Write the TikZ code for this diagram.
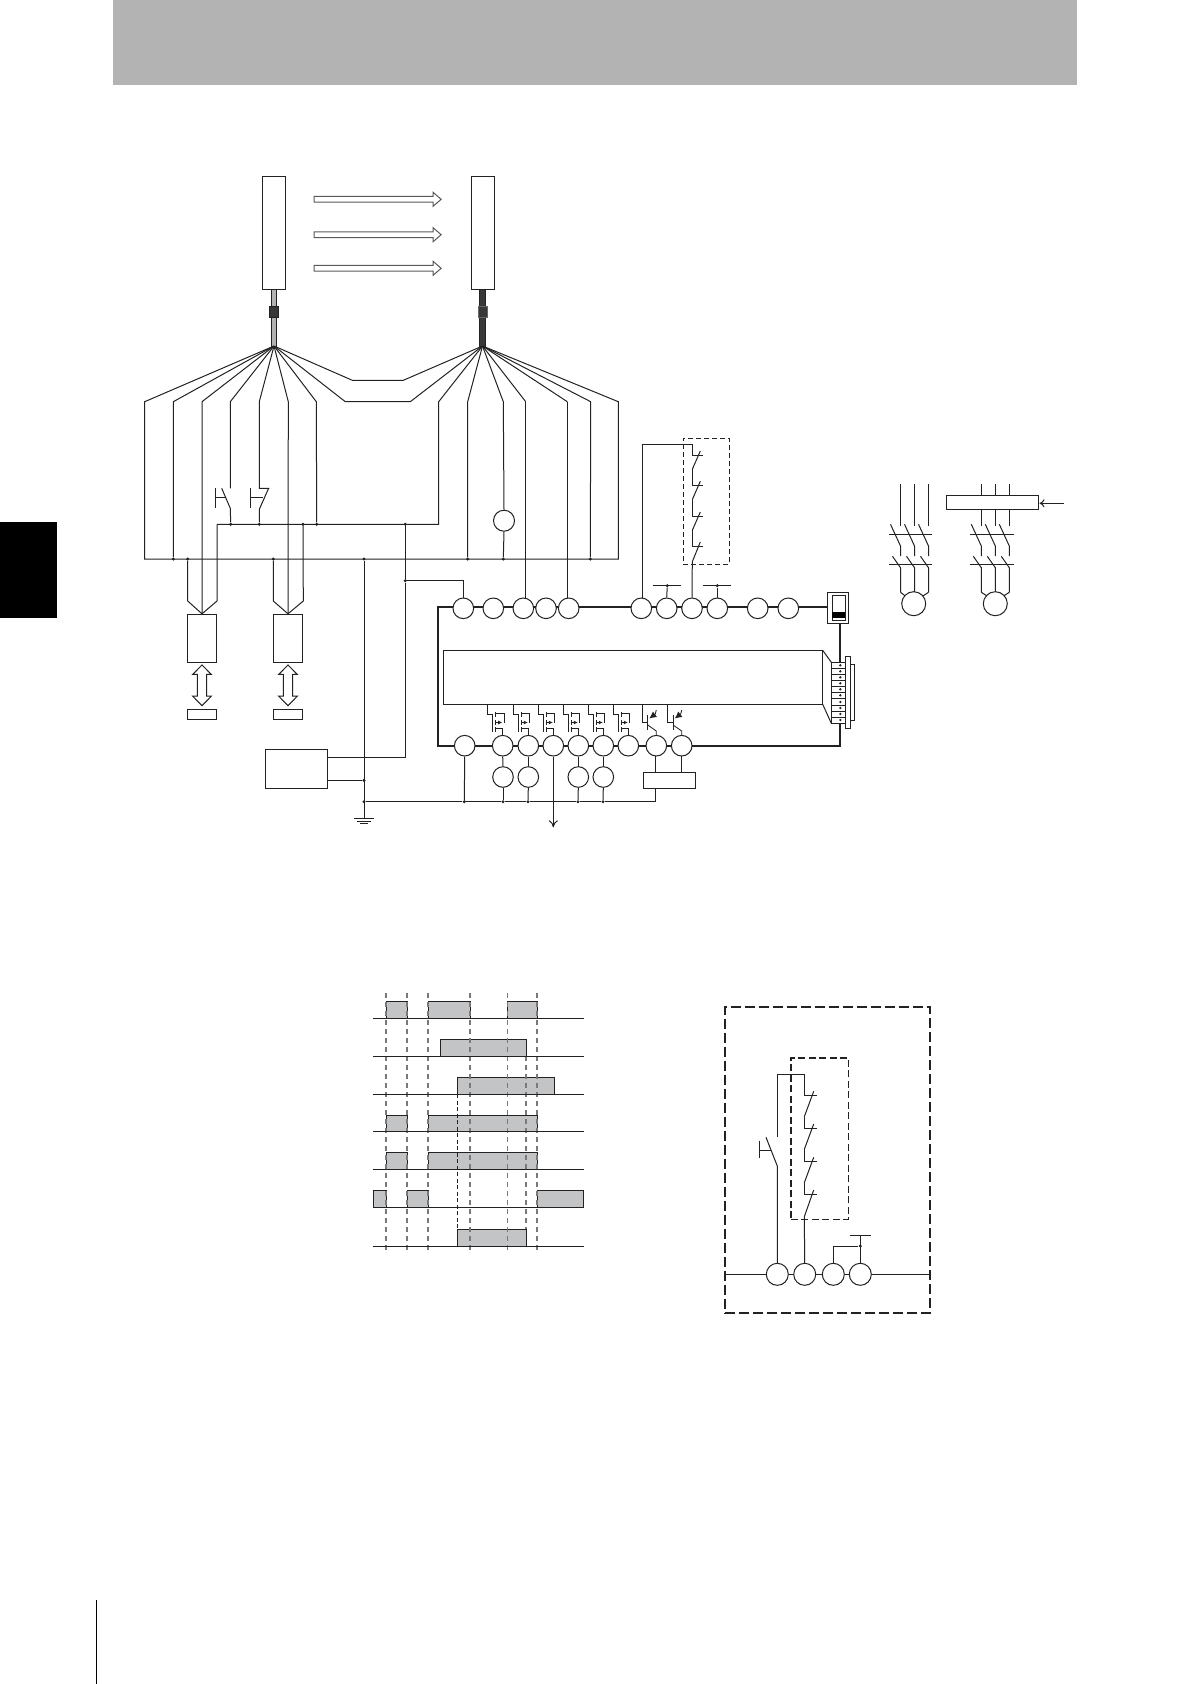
\documentclass[tikz,border=0pt]{standalone}
\usetikzlibrary{arrows.meta,shapes.arrows}
\definecolor{bargray}{HTML}{B3B3B3}
\definecolor{pulsegray}{HTML}{C2C4C6}
\definecolor{inkgray}{HTML}{222222}

% normally closed contact: x, y, arm length, blade drop
\newcommand{\nccontact}[4]{
    \draw[wire] (#1,#2) -- (#1+#3,#2);
    \draw[wire] (#1+#3-3,#2-4) -- (#1,#2+#4);
}
\newcommand{\mosfet}[1]{
    \draw[thin wire] (#1-15.3,704.3) |- (#1-10,714) -- (#1-10,732.3);
    \draw[thin wire] (#1-7,711.5) -- (#1-7,717);
    \draw[thin wire] (#1-7,719.5) -- (#1-7,725);
    \draw[thin wire] (#1-7,727) -- (#1-7,732.3);
    \draw[thin wire] (#1-7,713.3) -- (#1+1.3,713.3) -- (#1+1.3,722.5);
    \draw[thin wire,-{Latex[length=4pt,width=4pt]}] (#1-7,722.5) -- (#1-0.5,722.5);
    \draw[thin wire] (#1-7,728.3) -- (#1,728.3) -- (#1,735.4);
}
\newcommand{\bjt}[1]{
    \draw[thin wire] (#1-14,704.3) |- (#1-8.6,722.7);
    \draw[thin wire] (#1-8.6,715) -- (#1-8.6,730);
    \draw[thin wire] (#1-8.6,725) -- (#1,731) -- (#1,735.4);
    \draw[thin wire,{Latex[length=7pt,width=7pt]}-] (#1-7,718.5) -- (#1-1,714) -- (#1,710);
}
\newcommand{\motorpole}[1]{
    \draw[wire] (#1,484) -- (#1,526);
    \draw[wire] (#1-10,524.3) -- (#1,546) -- (#1,556);
    \draw[wire] (#1-8,556.3) -- (#1,567.7) -- (#1,592.3);
}
\newcommand{\conncell}[1]{
    \fill[inkgray] (840.3,#1) circle (1.3);
    \draw[thin wire] (831.3,#1+3) -- (845.3,#1+3);
}

\begin{document}
\begin{tikzpicture}[x=1pt,y=-1pt]
    \tikzstyle{wire} = [draw=inkgray,line width=1pt]
    \tikzstyle{thin wire} = [draw=inkgray,line width=0.85pt]
    \tikzstyle{railline} = [draw=inkgray,line width=1.8pt]
    \tikzstyle{term} = [circle,draw=inkgray,fill=white,line width=1pt,inner sep=0pt,minimum size=20.6pt]
    \tikzstyle{rterm} = [circle,draw=inkgray,fill=white,line width=1pt,inner sep=0pt,minimum size=22pt]
    \tikzstyle{motor} = [circle,draw=inkgray,fill=white,line width=1pt,inner sep=0pt,minimum size=24pt]
    \tikzstyle{box} = [rectangle,draw=inkgray,fill=white,line width=1pt,inner sep=0pt]
    \tikzstyle{dot} = [circle,fill=inkgray,inner sep=0pt,minimum size=3.4pt]
    \tikzstyle{beam} = [single arrow,draw=gray!70!black,fill=white,line width=1pt,inner sep=0pt,inner ysep=2.35pt,minimum height=127pt,single arrow head extend=4.15pt,single arrow tip angle=82]
    \tikzstyle{io} = [double arrow,draw=inkgray,fill=white,line width=1pt,inner sep=0pt,inner ysep=4.15pt,rotate=90,minimum height=40.7pt,double arrow head extend=4.7pt,double arrow tip angle=89]
    \tikzstyle{pulse} = [draw=inkgray,fill=pulsegray,line width=1pt]
    \tikzstyle{timeline} = [draw=gray!95!black,line width=1.2pt,dash pattern=on 5pt off 4pt]

    \useasboundingbox (0,0) rectangle (1190,1684);

    % page furniture
    \fill[bargray] (112.8,0) rectangle (1077,85);
    \fill[black] (0,522) rectangle (57,618);
    \draw[black,line width=1pt] (96,1600) -- (96,1684);

    % sensors
    \node[box,minimum width=23.4pt,minimum height=112.5pt] (EM) at (274,233){};
    \node[box,minimum width=23.4pt,minimum height=112.5pt] (RC) at (483,233){};
    \node[beam] (B1) at (376,199.3){};
    \node[beam] (B2) at (376,234.7){};
    \node[beam] (B3) at (376,268.3){};

    \coordinate (LA) at (274,346);
    \coordinate (RA) at (482.5,346);

    % fan of wires
    \coordinate (LB1) at (144.7,401.7);
    \coordinate (LB2) at (173.3,401.7);
    \coordinate (LB3) at (202,401.7);
    \coordinate (LB4) at (230.3,401.7);
    \coordinate (LB5) at (259.3,401.7);
    \coordinate (LB6) at (288.3,401.7);
    \coordinate (LB7) at (316.3,401.7);
    \coordinate (RB1) at (438.7,401.7);
    \coordinate (RB2) at (467.7,401.7);
    \coordinate (RB3) at (503.3,401.7);
    \coordinate (RB4) at (525.7,401.7);
    \coordinate (RB5) at (567.3,401.7);
    \coordinate (RB6) at (590.7,401.7);
    \coordinate (RB7) at (618.3,401.7);
    \coordinate (BL) at (144.7,559);
    \coordinate (BR) at (618.3,559);
    \coordinate (CL) at (217,524.3);
    \coordinate (CR) at (438.7,524.3);

    \draw[wire] (LA) -- (LB1) -- (BL) -- (BR) -- (RB7) -- (RA);
    \draw[wire] (LA) -- (352.3,380.3) -- (403.3,380.3) -- (RA);
    \draw[wire] (LA) -- (345.3,401.7) -- (410.3,401.7) -- (RA);
    \draw[wire] (RA) -- (RB1) -- (CR) -- (CL);

    % cables and connectors
    \fill[bargray,draw=inkgray,line width=0.5pt] (271.7,289.3) rectangle (276.7,346);
    \fill[inkgray!90,draw=inkgray,line width=0.5pt] (479.7,289.3) rectangle (485.7,346);
    \fill[inkgray!90,draw=inkgray,line width=0.5pt] (269.3,306) rectangle (278.7,317.7);
    \fill[inkgray!90,draw=black!60,line width=0.5pt] (478.3,306) rectangle (487.7,317.7);

    % dots on both buses
    \node[dot] (D1) at (173.3,559){};
    \node[dot] (D2) at (187.7,559){};
    \node[dot] (D3) at (273.3,559){};
    \node[dot] (D4) at (364,559){};
    \node[dot] (D5) at (467.7,559){};
    \node[dot] (D6) at (503.3,559){};
    \node[dot] (D7) at (590.3,559){};
    \node[dot] (E1) at (230.7,524.3){};
    \node[dot] (E2) at (259.3,524.3){};
    \node[dot] (E3) at (303,524.3){};
    \node[dot] (E4) at (316.7,524.3){};
    \node[dot] (E5) at (405.3,524.3){};

    \node[box,minimum width=29.4pt,minimum height=48pt] (K1) at (202,638.3){};
    \node[box,minimum width=29.4pt,minimum height=48pt] (K2) at (288,638.3){};
    \node[io] (A1) at (202,685.3){};
    \node[io] (A2) at (288,685.3){};
    \node[box,minimum width=29.4pt,minimum height=10pt] (C1) at (202,714.3){};
    \node[box,minimum width=29.4pt,minimum height=10pt] (C2) at (288,714.3){};
    \node[term,minimum size=21pt] (L1) at (504,520.7){};

    \draw[wire] (LA) -- (LB2) -- (D1);
    \draw[wire] (LA) -- (LB3) -- (K1.north);
    \draw[wire] (LA) -- (LB6) -- (K2.north);
    \draw[wire] (LA) -- (LB7) -- (E4);
    \draw[wire] (RA) -- (RB2) -- (D5);
    \draw[wire] (RA) -- (RB3) -- (L1.north);
    \draw[wire] (L1.south) -- (D6);
    \draw[wire] (RA) -- (RB6) -- (D7);
    \draw[wire] (RA) -- (RB4);
    \draw[wire] (RA) -- (RB5);
    \draw[wire] (CL) -- (217,601) -- (K1.north);
    \draw[wire] (D2) -- (187.7,601) -- (K1.north);
    \draw[wire] (D3) -- (273.3,601) -- (K2.north);
    \draw[wire] (E3) -- (303.3,601) -- (K2.north);

    % test and reset switches
    \draw[wire] (LA) -- (LB4) -- (230.3,488.3);
    \draw[wire] (221.7,488.3) -- (230.3,508.3) -- (E1);
    \draw[wire] (215.3,488.3) -- (215.3,507.7);
    \draw[wire] (215.3,497.7) -- (226.3,497.7);
    \draw[wire] (LA) -- (LB5) -- (259.3,488.3) -- (269.3,488.3);
    \draw[wire] (268.3,489) -- (259.3,509.3) -- (E2);
    \draw[wire] (250.3,488.3) -- (250.3,507.7);
    \draw[wire] (250.3,497.7) -- (263.3,497.7);

    % power supply and ground
    \node[box,minimum width=62.4pt,minimum height=39pt] (PS) at (296.5,768.8){};
    \node[dot] (D8) at (405.3,580.7){};
    \node[dot] (D9) at (364,780.3){};
    \node[dot] (D10) at (364,801.7){};
    \coordinate (GN) at (364,818.3);
    \draw[wire] (E5) -- (D8) -- (405.3,757.3) -- (327.7,757.3);
    \draw[wire] (327.7,780.3) -- (D9);
    \draw[wire] (D4) -- (GN);
    \draw[wire] (354,818.3) -- (374,818.3);
    \draw[wire] (357.3,821) -- (370.7,821);
    \draw[wire] (360,823.7) -- (368.3,823.7);

    % controller frame
    \coordinate (FA) at (827.3,607);
    \coordinate (FB) at (437.7,607);
    \coordinate (FC) at (437.7,745.7);
    \coordinate (FD) at (840,745.7);
    \draw[railline] (FA) -- (FB) -- (FC) -- (FD) -- (840,623.7);

    \node[box,minimum width=379.4pt,minimum height=54pt] (CPU) at (633,677.3){};
    \draw[wire] (822.7,650.3) -- (831.3,662.3);
    \draw[wire] (822.7,704.3) -- (831.3,723.3);
    \node[box,minimum width=14pt,minimum height=61pt] (CN) at (838.3,692.8){};
    \node[box,minimum width=5.4pt,minimum height=72.4pt] (CP) at (848,692.5){};
    \draw[thin wire] (850.7,664.3) -- (854.7,664.3) -- (854.7,720.7) -- (850.7,720.7);
    \conncell{665.3}
    \conncell{671.3}
    \conncell{677.3}
    \conncell{683.3}
    \conncell{689.3}
    \conncell{695.3}
    \conncell{702}
    \conncell{708}
    \conncell{714}
    \conncell{720}

    % DIP switch
    \node[box,minimum width=21.4pt,minimum height=31.4pt] (SW) at (838,608){};
    \node[box,minimum width=12.7pt,minimum height=25pt] (SN) at (838.7,607.5){};
    \fill[black] (832.3,612.3) rectangle (845,617.7);

    % upper terminals
    \node[term] (T1) at (463.3,608.3){};
    \node[term] (T2) at (493.3,608.3){};
    \node[term] (T3) at (523.3,608.3){};
    \node[term] (T4) at (546,608.3){};
    \node[term] (T5) at (568.7,608.3){};
    \node[term] (T6) at (641.3,608.3){};
    \node[term] (T7) at (666.7,608.3){};
    \node[term] (T8) at (692,608.3){};
    \node[term] (T9) at (717.3,608.3){};
    \node[term] (T10) at (757.7,608.3){};
    \node[term] (T11) at (788.3,608.3){};

    \draw[wire] (D8) -| (T1.north);
    \draw[wire] (RB4) -- (525.7,598.6);
    \draw[wire] (RB5) -- (567.3,598);

    % safety contacts
    \node[rectangle,draw=inkgray,dash pattern=on 5pt off 3pt,line width=1pt,inner sep=0pt,minimum width=46pt,minimum height=126pt] (SG) at (706.3,501.3){};
    \draw[wire] (642.7,598) -- (642.7,444.3) -- (692.3,444.3) -- (692.3,455);
    \nccontact{692.3}{455}{11}{14.3}
    \draw[wire] (692.3,469.3) -- (692.3,485.3);
    \nccontact{692.3}{485.3}{11}{14.3}
    \draw[wire] (692.3,499.6) -- (692.3,516);
    \nccontact{692.3}{516}{11}{14.3}
    \draw[wire] (692.3,530.3) -- (692.3,546);
    \nccontact{692.3}{546}{11}{15.7}
    \draw[wire] (692.3,561.7) -- (T8.north);

    \node[dot] (V1) at (667.3,585.7){};
    \node[dot] (V2) at (717.3,585.7){};
    \draw[wire] (T7.north) -- (V1);
    \draw[wire] (653,585.7) -- (681.3,585.7);
    \draw[wire] (T9.north) -- (V2);
    \draw[wire] (703,585.7) -- (731.3,585.7);

    % lower terminals
    \node[term] (O1) at (464.7,745.7){};
    \node[term] (O2) at (502.7,745.7){};
    \node[term] (O3) at (528.3,745.7){};
    \node[term] (O4) at (553.3,745.7){};
    \node[term] (O5) at (578.3,745.7){};
    \node[term] (O6) at (603.3,745.7){};
    \node[term] (O7) at (628.3,745.7){};
    \node[term] (O8) at (656.3,745.7){};
    \node[term] (O9) at (681.7,745.7){};

    \mosfet{502.7}
    \mosfet{528.3}
    \mosfet{553.3}
    \mosfet{578.3}
    \mosfet{603.3}
    \mosfet{628.3}
    \bjt{656.3}
    \bjt{681.7}

    % loads
    \node[term] (Q1) at (503,777){};
    \node[term] (Q2) at (528.3,777){};
    \node[term] (Q3) at (578.3,777){};
    \node[term] (Q4) at (603.3,777){};
    \node[box,minimum width=52pt,minimum height=16pt] (AC) at (669.3,780.3){};

    \node[dot] (W1) at (464.3,801.7){};
    \node[dot] (W2) at (503,801.7){};
    \node[dot] (W3) at (528,801.7){};
    \node[dot] (W4) at (578,801.7){};
    \node[dot] (W5) at (603,801.7){};
    \coordinate (W6) at (655.7,801.7);

    \draw[wire] (D10) -- (W1) -- (W2) -- (W3) -- (W4) -- (W5) -- (W6) -- (655.7,788.3);
    \draw[wire] (O1.south) -- (W1);
    \draw[wire] (O2.south) -- (Q1.north);
    \draw[wire] (Q1.south) -- (W2);
    \draw[wire] (O3.south) -- (Q2.north);
    \draw[wire] (Q2.south) -- (W3);
    \draw[wire] (O5.south) -- (Q3.north);
    \draw[wire] (Q3.south) -- (W4);
    \draw[wire] (O6.south) -- (Q4.north);
    \draw[wire] (Q4.south) -- (W5);
    \draw[wire] (655.7,755.8) -- (655.7,772.3);
    \draw[wire] (681,756) -- (681,772.3);
    \draw[wire,->,>={To[length=7pt,width=9pt]}] (O4.south) -- (553.3,827.3);

    % motors
    \motorpole{900.5}
    \motorpole{914.5}
    \motorpole{928.5}
    \draw[wire] (889,534.3) -- (932,534.3);
    \draw[wire] (889,564.3) -- (932,564.3);
    \node[motor] (M1) at (913.7,603.7){};
    \draw[wire] (900.5,592.3) -- (905.3,596);
    \draw[wire] (928.5,592.3) -- (922.8,596);

    \motorpole{981.3}
    \motorpole{995.3}
    \motorpole{1009.3}
    \draw[wire] (970,534.3) -- (1013.7,534.3);
    \draw[wire] (970,564.3) -- (1013.7,564.3);
    \node[motor] (M2) at (995.3,603.7){};
    \draw[wire] (981.3,592.3) -- (987,596);
    \draw[wire] (1009.3,592.3) -- (1003.6,596);
    \node[box,minimum width=92pt,minimum height=14pt] (KB) at (992.3,502.3){};
    \coordinate (KS) at (1064.3,503.3);
    \draw[wire,->,>={To[length=5pt,width=8pt]}] (KS) -- (1039.5,503.3);

    % timing chart
    \draw[pulse] (386,1018.3) -- (386,1001.3) -- (407,1001.3) -- (407,1018.3);
    \draw[pulse] (428,1018.3) -- (428,1001.3) -- (470,1001.3) -- (470,1018.3);
    \draw[pulse] (507.7,1018.3) -- (507.7,1001.3) -- (537,1001.3) -- (537,1018.3);
    \draw[pulse] (440.3,1056.3) -- (440.3,1039.3) -- (526,1039.3) -- (526,1056.3);
    \draw[pulse] (457.3,1094.3) -- (457.3,1077.3) -- (554.3,1077.3) -- (554.3,1094.3);
    \draw[pulse] (386,1131.3) -- (386,1115.3) -- (407,1115.3) -- (407,1131.3);
    \draw[pulse] (428,1131.3) -- (428,1115.3) -- (537,1115.3) -- (537,1131.3);
    \draw[pulse] (386,1169.3) -- (386,1152.3) -- (407,1152.3) -- (407,1169.3);
    \draw[pulse] (428,1169.3) -- (428,1152.3) -- (537,1152.3) -- (537,1169.3);
    \draw[pulse] (373.3,1207.3) -- (373.3,1190.3) -- (386,1190.3) -- (386,1207.3);
    \draw[pulse] (407,1207.3) -- (407,1190.3) -- (428,1190.3) -- (428,1207.3);
    \draw[pulse] (537,1207.3) -- (537,1190.3) -- (583.7,1190.3) -- (583.7,1207.3);
    \draw[pulse] (457.3,1246.3) -- (457.3,1229.3) -- (526,1229.3) -- (526,1246.3);

    \draw[timeline] (386,993.3) -- (386,1253.3);
    \draw[timeline] (407,993.3) -- (407,1253.3);
    \draw[timeline] (428,993.3) -- (428,1253.3);
    \draw[timeline] (470,993.3) -- (470,1253.3);
    \draw[timeline] (507.7,993.3) -- (507.7,1253.3);
    \draw[timeline] (537,993.3) -- (537,1253.3);
    \draw[timeline] (526,1056.3) -- (526,1229.3);
    \draw[thin wire,dash pattern=on 4pt off 2.5pt] (457.3,1094.3) -- (457.3,1229.3);

    \draw[wire] (373.3,1018.3) -- (583.7,1018.3);
    \draw[wire] (373.3,1056.3) -- (583.7,1056.3);
    \draw[wire] (373.3,1094.3) -- (583.7,1094.3);
    \draw[wire] (373.3,1131.3) -- (583.7,1131.3);
    \draw[wire] (373.3,1169.3) -- (583.7,1169.3);
    \draw[wire] (373.3,1207.3) -- (583.7,1207.3);
    \draw[wire] (373.3,1246.3) -- (583.7,1246.3);

    % external circuit
    \node[rectangle,draw=inkgray,dash pattern=on 10pt off 4pt,line width=2pt,inner sep=0pt,minimum width=204.7pt,minimum height=306.6pt] (EX) at (827.7,1160){};
    \node[rectangle,draw=inkgray,dash pattern=on 7pt off 3.5pt,line width=1.6pt,inner sep=0pt,minimum width=57.6pt,minimum height=161.6pt] (SH) at (819.5,1138.5){};

    \node[rterm] (RT1) at (777.3,1274.3){};
    \node[rterm] (RT2) at (804.7,1274.3){};
    \node[rterm] (RT3) at (833.3,1274.3){};
    \node[rterm] (RT4) at (860.3,1274.3){};
    \coordinate (RL) at (725.3,1274.3);
    \coordinate (RR) at (930,1274.3);
    \draw[wire] (RL) -- (RT1);
    \draw[wire] (RT1) -- (RT2);
    \draw[wire] (RT2) -- (RT3);
    \draw[wire] (RT3) -- (RT4);
    \draw[wire] (RT4) -- (RR);

    \draw[wire] (RT1.north) -- (777.3,1166) -- (766,1137.3);
    \draw[wire] (759.7,1140.7) -- (759.7,1158.3);
    \draw[wire] (759.7,1150) -- (771,1150);
    \draw[wire] (777.3,1137.3) -- (777.3,1074.3) -- (804.3,1074.3) -- (804.3,1095.3);
    \nccontact{804.3}{1095.3}{12.4}{21.4}
    \draw[wire] (804.3,1116.7) -- (804.3,1128);
    \nccontact{804.3}{1128}{12.4}{21.4}
    \draw[wire] (804.3,1149.4) -- (804.3,1161.3);
    \nccontact{804.3}{1161.3}{12.4}{21.4}
    \draw[wire] (804.3,1182.7) -- (804.3,1194);
    \nccontact{804.3}{1194}{12.4}{22.7}
    \draw[wire] (804.3,1216.7) -- (RT2.north);

    \node[dot] (RD) at (860.3,1246){};
    \draw[wire] (RT3.north) |- (RD);
    \draw[wire] (RT4.north) -- (860.3,1235.3);
    \draw[wire] (850,1235.3) -- (870.7,1235.3);

\end{tikzpicture}
\end{document}
